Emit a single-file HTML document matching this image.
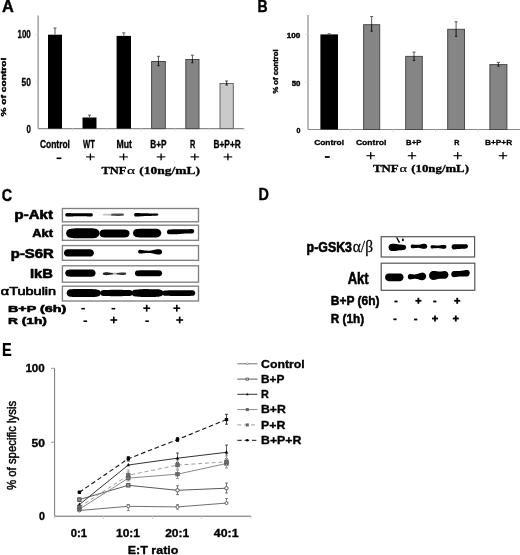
<!DOCTYPE html>
<html><head><meta charset="utf-8"><style>
html,body{margin:0;padding:0;background:#fff;}
svg{display:block;filter:grayscale(1);}
text{font-variant-ligatures:none;}
</style></head><body>
<svg width="520" height="555" viewBox="0 0 520 555">
<defs><filter id="bl" x="-20%" y="-50%" width="140%" height="200%"><feGaussianBlur stdDeviation="0.55"/></filter></defs>
<rect width="520" height="555" fill="#fff"/>
<text transform="matrix(1.0007 0 0 1 2.00 12.40)" font-family="Liberation Sans" font-weight="bold" font-size="16.38" fill="#000"  stroke="#000" stroke-width="0.4" stroke-linejoin="round">A</text>
<line x1="38.1" y1="15.5" x2="38.1" y2="128.6" stroke="#8a8a8a" stroke-width="1.2" />
<line x1="38.1" y1="128.6" x2="244" y2="128.6" stroke="#8a8a8a" stroke-width="1.2" />
<line x1="35.6" y1="34.7" x2="38.1" y2="34.7" stroke="#d8d8d8" stroke-width="1" />
<line x1="35.6" y1="81.6" x2="38.1" y2="81.6" stroke="#d8d8d8" stroke-width="1" />
<text transform="matrix(0.7850 0 0 1 17.50 38.30)" font-family="Liberation Sans" font-weight="bold" font-size="10.14" fill="#000"  stroke="#000" stroke-width="0.32" stroke-linejoin="round">100</text>
<text transform="matrix(0.8259 0 0 1 21.50 85.80)" font-family="Liberation Sans" font-weight="bold" font-size="10.14" fill="#000"  stroke="#000" stroke-width="0.32" stroke-linejoin="round">50</text>
<text transform="matrix(0.7815 0 0 1 26.40 132.60)" font-family="Liberation Sans" font-weight="bold" font-size="10.14" fill="#000"  stroke="#000" stroke-width="0.32" stroke-linejoin="round">0</text>
<text transform="translate(6.30 116.50) rotate(-90) scale(1.4051 1) translate(-0.00 0)" font-family="Liberation Sans" font-weight="bold" font-size="7.25" fill="#000" stroke="#000" stroke-width="0.4">% of control</text>
<rect x="48" y="34.7" width="14" height="93.89999999999999" fill="#000" stroke="none" stroke-width="1" />
<line x1="55.0" y1="28" x2="55.0" y2="34.7" stroke="#555" stroke-width="1" />
<line x1="53.5" y1="28" x2="56.5" y2="28" stroke="#555" stroke-width="1" />
<rect x="82.5" y="117.5" width="14.0" height="11.099999999999994" fill="#000" stroke="none" stroke-width="1" />
<line x1="89.5" y1="115.1" x2="89.5" y2="117.5" stroke="#555" stroke-width="1" />
<line x1="88.0" y1="115.1" x2="91.0" y2="115.1" stroke="#555" stroke-width="1" />
<rect x="116.6" y="35.9" width="14.400000000000006" height="92.69999999999999" fill="#000" stroke="none" stroke-width="1" />
<line x1="123.8" y1="32.9" x2="123.8" y2="35.9" stroke="#555" stroke-width="1" />
<line x1="122.3" y1="32.9" x2="125.3" y2="32.9" stroke="#555" stroke-width="1" />
<rect x="151.6" y="61.5" width="13.700000000000017" height="67.1" fill="#858585" stroke="#4a4a4a" stroke-width="1" />
<line x1="158.45" y1="56.3" x2="158.45" y2="61" stroke="#555" stroke-width="1" />
<line x1="158.45" y1="61" x2="158.45" y2="65.6" stroke="#111" stroke-width="1" />
<line x1="156.95" y1="56.3" x2="159.95" y2="56.3" stroke="#555" stroke-width="1" />
<line x1="157.25" y1="65.6" x2="159.64999999999998" y2="65.6" stroke="#222" stroke-width="1.1" />
<rect x="185.8" y="59.5" width="13.199999999999989" height="69.1" fill="#858585" stroke="#4a4a4a" stroke-width="1" />
<line x1="192.4" y1="55.2" x2="192.4" y2="59" stroke="#555" stroke-width="1" />
<line x1="192.4" y1="59" x2="192.4" y2="62.7" stroke="#111" stroke-width="1" />
<line x1="190.9" y1="55.2" x2="193.9" y2="55.2" stroke="#555" stroke-width="1" />
<line x1="191.20000000000002" y1="62.7" x2="193.6" y2="62.7" stroke="#222" stroke-width="1.1" />
<rect x="220.0" y="83.5" width="13.300000000000011" height="45.099999999999994" fill="#cacaca" stroke="#666" stroke-width="1" />
<line x1="226.65" y1="81" x2="226.65" y2="83" stroke="#444" stroke-width="1" />
<line x1="226.65" y1="83" x2="226.65" y2="85" stroke="#111" stroke-width="1" />
<line x1="225.15" y1="81" x2="228.15" y2="81" stroke="#444" stroke-width="1" />
<line x1="225.45000000000002" y1="85" x2="227.85" y2="85" stroke="#222" stroke-width="1.1" />
<line x1="72.5" y1="128.6" x2="72.5" y2="131.1" stroke="#e0e0e0" stroke-width="1" />
<line x1="106.5" y1="128.6" x2="106.5" y2="131.1" stroke="#e0e0e0" stroke-width="1" />
<line x1="141" y1="128.6" x2="141" y2="131.1" stroke="#e0e0e0" stroke-width="1" />
<line x1="175" y1="128.6" x2="175" y2="131.1" stroke="#e0e0e0" stroke-width="1" />
<line x1="209.5" y1="128.6" x2="209.5" y2="131.1" stroke="#e0e0e0" stroke-width="1" />
<line x1="244" y1="128.6" x2="244" y2="131.1" stroke="#e0e0e0" stroke-width="1" />
<text transform="matrix(0.8087 0 0 1 40.00 148.00)" font-family="Liberation Sans" font-weight="bold" font-size="10.43" fill="#000"  stroke="#000" stroke-width="0.32" stroke-linejoin="round">Control</text>
<text transform="matrix(0.7334 0 0 1 83.10 147.80)" font-family="Liberation Sans" font-weight="bold" font-size="10.43" fill="#000"  stroke="#000" stroke-width="0.32" stroke-linejoin="round">WT</text>
<text transform="matrix(0.8315 0 0 1 116.50 147.80)" font-family="Liberation Sans" font-weight="bold" font-size="10.43" fill="#000"  stroke="#000" stroke-width="0.32" stroke-linejoin="round">Mut</text>
<text transform="matrix(0.7861 0 0 1 150.30 148.00)" font-family="Liberation Sans" font-weight="bold" font-size="10.43" fill="#000"  stroke="#000" stroke-width="0.32" stroke-linejoin="round">B+P</text>
<text transform="matrix(0.7054 0 0 1 190.00 148.00)" font-family="Liberation Sans" font-weight="bold" font-size="10.43" fill="#000"  stroke="#000" stroke-width="0.32" stroke-linejoin="round">R</text>
<text transform="matrix(0.7976 0 0 1 213.50 148.00)" font-family="Liberation Sans" font-weight="bold" font-size="10.43" fill="#000"  stroke="#000" stroke-width="0.32" stroke-linejoin="round">B+P+R</text>
<rect x="56.6" y="157.5" width="4.8" height="1.6" fill="#000" stroke="none" stroke-width="1" />
<rect x="86.10000000000001" y="156.35" width="8.6" height="1.1" fill="#000" stroke="none" stroke-width="1" />
<rect x="89.75" y="153.5" width="1.3" height="6.8" fill="#000" stroke="none" stroke-width="1" />
<rect x="119.3" y="156.35" width="8.6" height="1.1" fill="#000" stroke="none" stroke-width="1" />
<rect x="122.94999999999999" y="153.5" width="1.3" height="6.8" fill="#000" stroke="none" stroke-width="1" />
<rect x="156.79999999999998" y="156.35" width="8.6" height="1.1" fill="#000" stroke="none" stroke-width="1" />
<rect x="160.45" y="153.5" width="1.3" height="6.8" fill="#000" stroke="none" stroke-width="1" />
<rect x="190.5" y="156.35" width="8.6" height="1.1" fill="#000" stroke="none" stroke-width="1" />
<rect x="194.15" y="153.5" width="1.3" height="6.8" fill="#000" stroke="none" stroke-width="1" />
<rect x="223.6" y="156.35" width="8.6" height="1.1" fill="#000" stroke="none" stroke-width="1" />
<rect x="227.25" y="153.5" width="1.3" height="6.8" fill="#000" stroke="none" stroke-width="1" />
<text transform="matrix(1.2040 0 0 1 101.40 173.60)" font-family="Liberation Serif" font-weight="bold" font-size="10.38" fill="#000"  stroke="#000" stroke-width="0.32" stroke-linejoin="round">TNF</text>
<text transform="matrix(1.4861 0 0 1 126.90 173.60)" font-family="Liberation Serif" font-weight="normal" font-size="10.38" fill="#000"  stroke="#000" stroke-width="0.2" stroke-linejoin="round">α</text>
<text transform="matrix(1.3036 0 0 1 139.20 173.60)" font-family="Liberation Serif" font-weight="bold" font-size="10.38" fill="#000"  stroke="#000" stroke-width="0.32" stroke-linejoin="round">(10ng/mL)</text>
<text transform="matrix(0.8490 0 0 1 257.50 12.20)" font-family="Liberation Sans" font-weight="bold" font-size="16.52" fill="#000"  stroke="#000" stroke-width="0.4" stroke-linejoin="round">B</text>
<line x1="308" y1="15" x2="308" y2="129.5" stroke="#8a8a8a" stroke-width="1.2" />
<line x1="308" y1="129.5" x2="520" y2="129.5" stroke="#8a8a8a" stroke-width="1.2" />
<line x1="305.5" y1="34.4" x2="308" y2="34.4" stroke="#d8d8d8" stroke-width="1" />
<line x1="305.5" y1="82" x2="308" y2="82" stroke="#d8d8d8" stroke-width="1" />
<text transform="matrix(1.1156 0 0 1 286.70 37.50)" font-family="Liberation Sans" font-weight="bold" font-size="7.25" fill="#000"  stroke="#000" stroke-width="0.4" stroke-linejoin="round">100</text>
<text transform="matrix(1.0816 0 0 1 291.70 86.00)" font-family="Liberation Sans" font-weight="bold" font-size="7.25" fill="#000"  stroke="#000" stroke-width="0.4" stroke-linejoin="round">50</text>
<text transform="matrix(0.9697 0 0 1 296.50 133.00)" font-family="Liberation Sans" font-weight="bold" font-size="7.25" fill="#000"  stroke="#000" stroke-width="0.4" stroke-linejoin="round">0</text>
<text transform="translate(278.40 93.60) rotate(-90) scale(0.9602 1) translate(-0.00 0)" font-family="Liberation Sans" font-weight="bold" font-size="7.97" fill="#000" stroke="#000" stroke-width="0.4">% of control</text>
<rect x="320.4" y="34.4" width="17.600000000000023" height="95.1" fill="#000" stroke="none" stroke-width="1" />
<line x1="329.2" y1="33.8" x2="329.2" y2="34.4" stroke="#555" stroke-width="1" />
<line x1="329.2" y1="34.4" x2="329.2" y2="34.6" stroke="#555" stroke-width="1" />
<line x1="327.7" y1="33.8" x2="330.7" y2="33.8" stroke="#555" stroke-width="1" />
<rect x="363.6" y="24.7" width="16.099999999999966" height="104.8" fill="#858585" stroke="#4a4a4a" stroke-width="1" />
<line x1="371.65" y1="16.6" x2="371.65" y2="24.2" stroke="#555" stroke-width="1" />
<line x1="371.65" y1="24.2" x2="371.65" y2="31.2" stroke="#111" stroke-width="1" />
<line x1="370.15" y1="16.6" x2="373.15" y2="16.6" stroke="#555" stroke-width="1" />
<line x1="370.45" y1="31.2" x2="372.84999999999997" y2="31.2" stroke="#222" stroke-width="1.1" />
<rect x="405.7" y="56.4" width="16.600000000000023" height="73.1" fill="#858585" stroke="#4a4a4a" stroke-width="1" />
<line x1="414.0" y1="52.1" x2="414.0" y2="55.9" stroke="#555" stroke-width="1" />
<line x1="414.0" y1="55.9" x2="414.0" y2="60.5" stroke="#111" stroke-width="1" />
<line x1="412.5" y1="52.1" x2="415.5" y2="52.1" stroke="#555" stroke-width="1" />
<line x1="412.8" y1="60.5" x2="415.2" y2="60.5" stroke="#222" stroke-width="1.1" />
<rect x="447.7" y="29.3" width="16.80000000000001" height="100.2" fill="#858585" stroke="#4a4a4a" stroke-width="1" />
<line x1="456.1" y1="21.8" x2="456.1" y2="28.8" stroke="#555" stroke-width="1" />
<line x1="456.1" y1="28.8" x2="456.1" y2="36.3" stroke="#111" stroke-width="1" />
<line x1="454.6" y1="21.8" x2="457.6" y2="21.8" stroke="#555" stroke-width="1" />
<line x1="454.90000000000003" y1="36.3" x2="457.3" y2="36.3" stroke="#222" stroke-width="1.1" />
<rect x="489.9" y="64.6" width="17.0" height="64.9" fill="#858585" stroke="#4a4a4a" stroke-width="1" />
<line x1="498.4" y1="62.4" x2="498.4" y2="64.1" stroke="#555" stroke-width="1" />
<line x1="498.4" y1="64.1" x2="498.4" y2="66.2" stroke="#111" stroke-width="1" />
<line x1="496.9" y1="62.4" x2="499.9" y2="62.4" stroke="#555" stroke-width="1" />
<line x1="497.2" y1="66.2" x2="499.59999999999997" y2="66.2" stroke="#222" stroke-width="1.1" />
<line x1="350.5" y1="129.5" x2="350.5" y2="132.0" stroke="#e0e0e0" stroke-width="1" />
<line x1="393" y1="129.5" x2="393" y2="132.0" stroke="#e0e0e0" stroke-width="1" />
<line x1="435.5" y1="129.5" x2="435.5" y2="132.0" stroke="#e0e0e0" stroke-width="1" />
<line x1="478" y1="129.5" x2="478" y2="132.0" stroke="#e0e0e0" stroke-width="1" />
<text transform="matrix(1.0329 0 0 1 314.20 144.50)" font-family="Liberation Sans" font-weight="bold" font-size="8.12" fill="#000"  stroke="#000" stroke-width="0.32" stroke-linejoin="round">Control</text>
<text transform="matrix(1.0571 0 0 1 355.90 144.50)" font-family="Liberation Sans" font-weight="bold" font-size="8.12" fill="#000"  stroke="#000" stroke-width="0.32" stroke-linejoin="round">Control</text>
<text transform="matrix(0.9483 0 0 1 406.10 144.50)" font-family="Liberation Sans" font-weight="bold" font-size="8.12" fill="#000"  stroke="#000" stroke-width="0.32" stroke-linejoin="round">B+P</text>
<text transform="matrix(0.8899 0 0 1 454.20 144.50)" font-family="Liberation Sans" font-weight="bold" font-size="8.12" fill="#000"  stroke="#000" stroke-width="0.32" stroke-linejoin="round">R</text>
<text transform="matrix(1.0218 0 0 1 485.00 144.50)" font-family="Liberation Sans" font-weight="bold" font-size="8.12" fill="#000"  stroke="#000" stroke-width="0.32" stroke-linejoin="round">B+P+R</text>
<rect x="324.90000000000003" y="156.1" width="4.8" height="1.8" fill="#000" stroke="none" stroke-width="1" />
<rect x="366.5" y="155.14999999999998" width="8.4" height="1.1" fill="#000" stroke="none" stroke-width="1" />
<rect x="370.05" y="152.1" width="1.3" height="7.2" fill="#000" stroke="none" stroke-width="1" />
<rect x="407.8" y="155.14999999999998" width="8.4" height="1.1" fill="#000" stroke="none" stroke-width="1" />
<rect x="411.35" y="152.1" width="1.3" height="7.2" fill="#000" stroke="none" stroke-width="1" />
<rect x="453.5" y="155.14999999999998" width="8.4" height="1.1" fill="#000" stroke="none" stroke-width="1" />
<rect x="457.05" y="152.1" width="1.3" height="7.2" fill="#000" stroke="none" stroke-width="1" />
<rect x="498.8" y="155.14999999999998" width="8.4" height="1.1" fill="#000" stroke="none" stroke-width="1" />
<rect x="502.35" y="152.1" width="1.3" height="7.2" fill="#000" stroke="none" stroke-width="1" />
<text transform="matrix(1.2660 0 0 1 372.90 172.40)" font-family="Liberation Serif" font-weight="bold" font-size="10.23" fill="#000"  stroke="#000" stroke-width="0.32" stroke-linejoin="round">TNF</text>
<text transform="matrix(1.4152 0 0 1 399.40 172.40)" font-family="Liberation Serif" font-weight="normal" font-size="10.23" fill="#000"  stroke="#000" stroke-width="0.2" stroke-linejoin="round">α</text>
<text transform="matrix(1.2535 0 0 1 411.30 172.40)" font-family="Liberation Serif" font-weight="bold" font-size="10.23" fill="#000"  stroke="#000" stroke-width="0.32" stroke-linejoin="round">(10ng/mL)</text>
<text transform="matrix(0.8295 0 0 1 1.70 200.90)" font-family="Liberation Sans" font-weight="bold" font-size="17.25" fill="#000"  stroke="#000" stroke-width="0.45" stroke-linejoin="round">C</text>
<rect x="62.4" y="208.5" width="136.1" height="13.300000000000011" fill="#fff" stroke="#808080" stroke-width="1.35" />
<rect x="62.4" y="225.2" width="136.1" height="15.100000000000023" fill="#fff" stroke="#808080" stroke-width="1.35" />
<rect x="62.4" y="245.6" width="136.1" height="14.700000000000017" fill="#fff" stroke="#808080" stroke-width="1.35" />
<rect x="62.4" y="265.8" width="136.1" height="16.399999999999977" fill="#fff" stroke="#808080" stroke-width="1.35" />
<rect x="62.4" y="286.2" width="136.1" height="14.800000000000011" fill="#fff" stroke="#808080" stroke-width="1.35" />
<text transform="matrix(1.2346 0 0 1 14.60 219.20)" font-family="Liberation Sans" font-weight="bold" font-size="12.17" fill="#000"  stroke="#000" stroke-width="0.6" stroke-linejoin="round">p-Akt</text>
<text transform="matrix(1.1374 0 0 1 32.30 236.60)" font-family="Liberation Sans" font-weight="bold" font-size="11.30" fill="#000"  stroke="#000" stroke-width="0.6" stroke-linejoin="round">Akt</text>
<text transform="matrix(1.2222 0 0 1 10.80 258.20)" font-family="Liberation Sans" font-weight="bold" font-size="12.17" fill="#000"  stroke="#000" stroke-width="0.6" stroke-linejoin="round">p-S6R</text>
<text transform="matrix(1.1340 0 0 1 30.00 277.70)" font-family="Liberation Sans" font-weight="bold" font-size="13.04" fill="#000"  stroke="#000" stroke-width="0.6" stroke-linejoin="round">IkB</text>
<text transform="matrix(1.3342 0 0 1 0.80 295.00)" font-family="Liberation Sans" font-weight="normal" font-size="10.87" fill="#000"  stroke="#000" stroke-width="0.6" stroke-linejoin="round">αTubulin</text>
<text transform="matrix(1.5708 0 0 1 8.00 311.90)" font-family="Liberation Sans" font-weight="bold" font-size="9.13" fill="#000"  stroke="#000" stroke-width="0.55" stroke-linejoin="round">B+P (6h)</text>
<text transform="matrix(1.4603 0 0 1 8.00 324.00)" font-family="Liberation Sans" font-weight="bold" font-size="9.42" fill="#000"  stroke="#000" stroke-width="0.55" stroke-linejoin="round">R (1h)</text>
<rect x="81.3" y="307.9" width="3.6" height="1.6" fill="#000" stroke="none" stroke-width="1" />
<rect x="111.60000000000001" y="307.9" width="3.6" height="1.6" fill="#000" stroke="none" stroke-width="1" />
<rect x="143.29999999999998" y="307.4" width="6.8" height="1.6" fill="#000" stroke="none" stroke-width="1" />
<rect x="145.89999999999998" y="304.8" width="1.6" height="6.8" fill="#000" stroke="none" stroke-width="1" />
<rect x="173.4" y="307.4" width="6.8" height="1.6" fill="#000" stroke="none" stroke-width="1" />
<rect x="176.0" y="304.8" width="1.6" height="6.8" fill="#000" stroke="none" stroke-width="1" />
<rect x="83.5" y="320.4" width="3.6" height="1.6" fill="#000" stroke="none" stroke-width="1" />
<rect x="145.29999999999998" y="320.4" width="3.6" height="1.6" fill="#000" stroke="none" stroke-width="1" />
<rect x="110.39999999999999" y="319.2" width="6.8" height="1.6" fill="#000" stroke="none" stroke-width="1" />
<rect x="113.0" y="316.6" width="1.6" height="6.8" fill="#000" stroke="none" stroke-width="1" />
<rect x="176.29999999999998" y="319.2" width="6.8" height="1.6" fill="#000" stroke="none" stroke-width="1" />
<rect x="178.89999999999998" y="316.6" width="1.6" height="6.8" fill="#000" stroke="none" stroke-width="1" />
<text transform="matrix(0.8743 0 0 1 258.50 199.50)" font-family="Liberation Sans" font-weight="bold" font-size="16.52" fill="#000"  stroke="#000" stroke-width="0.4" stroke-linejoin="round">D</text>
<rect x="381.2" y="236.7" width="93.40000000000003" height="20.30000000000001" fill="#fff" stroke="#555" stroke-width="1.2" />
<rect x="381.2" y="263.2" width="93.60000000000002" height="27.100000000000023" fill="#fff" stroke="#555" stroke-width="1.2" />
<text transform="matrix(0.8634 0 0 1 306.60 252.30)" font-family="Liberation Sans" font-weight="bold" font-size="14.35" fill="#000"  stroke="#000" stroke-width="0.6" stroke-linejoin="round">p-GSK3</text>
<text transform="matrix(0.7500 0 0 1 347.70 284.30)" font-family="Liberation Sans" font-weight="bold" font-size="17.39" fill="#000"  stroke="#000" stroke-width="0.6" stroke-linejoin="round">Akt</text>
<text transform="matrix(0.9004 0 0 1 330.80 305.40)" font-family="Liberation Sans" font-weight="bold" font-size="13.33" fill="#000"  stroke="#000" stroke-width="0.55" stroke-linejoin="round">B+P (6h)</text>
<text transform="matrix(0.8836 0 0 1 330.80 323.10)" font-family="Liberation Sans" font-weight="bold" font-size="13.33" fill="#000"  stroke="#000" stroke-width="0.55" stroke-linejoin="round">R (1h)</text>
<rect x="394.4" y="300.6" width="3.2" height="1.8" fill="#000" stroke="none" stroke-width="1" />
<rect x="415.4" y="299.90000000000003" width="6" height="1.8" fill="#000" stroke="none" stroke-width="1" />
<rect x="417.5" y="297.8" width="1.8" height="6" fill="#000" stroke="none" stroke-width="1" />
<rect x="433.2" y="300.6" width="3.2" height="1.8" fill="#000" stroke="none" stroke-width="1" />
<rect x="454.2" y="299.90000000000003" width="6" height="1.8" fill="#000" stroke="none" stroke-width="1" />
<rect x="456.3" y="297.8" width="1.8" height="6" fill="#000" stroke="none" stroke-width="1" />
<rect x="393.4" y="318.40000000000003" width="3.2" height="1.8" fill="#000" stroke="none" stroke-width="1" />
<rect x="414.09999999999997" y="318.6" width="3.2" height="1.8" fill="#000" stroke="none" stroke-width="1" />
<rect x="432.0" y="317.6" width="6" height="1.8" fill="#000" stroke="none" stroke-width="1" />
<rect x="434.1" y="315.5" width="1.8" height="6" fill="#000" stroke="none" stroke-width="1" />
<rect x="452.8" y="317.6" width="6" height="1.8" fill="#000" stroke="none" stroke-width="1" />
<rect x="454.90000000000003" y="315.5" width="1.8" height="6" fill="#000" stroke="none" stroke-width="1" />
<text transform="matrix(0.8052 0 0 1 2.00 355.70)" font-family="Liberation Sans" font-weight="bold" font-size="18.12" fill="#000"  stroke="#000" stroke-width="0.2" stroke-linejoin="round">E</text>
<line x1="54.6" y1="368.3" x2="54.6" y2="516.2" stroke="#777" stroke-width="1" />
<line x1="54.6" y1="516.2" x2="251.2" y2="516.2" stroke="#666" stroke-width="1" />
<line x1="51.1" y1="368.3" x2="54.6" y2="368.3" stroke="#999" stroke-width="1" />
<line x1="51.1" y1="442.2" x2="54.6" y2="442.2" stroke="#999" stroke-width="1" />
<line x1="54.6" y1="516.2" x2="54.6" y2="518.7" stroke="#d0d0d0" stroke-width="1" />
<line x1="103.5" y1="516.2" x2="103.5" y2="518.7" stroke="#d0d0d0" stroke-width="1" />
<line x1="152.5" y1="516.2" x2="152.5" y2="518.7" stroke="#d0d0d0" stroke-width="1" />
<line x1="201.5" y1="516.2" x2="201.5" y2="518.7" stroke="#d0d0d0" stroke-width="1" />
<line x1="250.8" y1="516.2" x2="250.8" y2="518.7" stroke="#d0d0d0" stroke-width="1" />
<text transform="matrix(1.1451 0 0 1 25.40 372.30)" font-family="Liberation Sans" font-weight="bold" font-size="10.14" fill="#000"  stroke="#000" stroke-width="0.32" stroke-linejoin="round">100</text>
<text transform="matrix(1.1900 0 0 1 31.50 446.50)" font-family="Liberation Sans" font-weight="bold" font-size="10.14" fill="#000"  stroke="#000" stroke-width="0.32" stroke-linejoin="round">50</text>
<text transform="matrix(1.0479 0 0 1 39.00 519.50)" font-family="Liberation Sans" font-weight="bold" font-size="10.14" fill="#000"  stroke="#000" stroke-width="0.32" stroke-linejoin="round">0</text>
<text transform="translate(16.40 490.00) rotate(-90) scale(0.9134 1) translate(-0.00 0)" font-family="Liberation Sans" font-weight="normal" font-size="12.46" fill="#000" stroke="#000" stroke-width="0.45">% of specific lysis</text>
<text transform="matrix(1.0662 0 0 1 70.80 536.50)" font-family="Liberation Sans" font-weight="bold" font-size="10.58" fill="#000"  stroke="#000" stroke-width="0.32" stroke-linejoin="round">0:1</text>
<text transform="matrix(1.1342 0 0 1 116.00 536.50)" font-family="Liberation Sans" font-weight="bold" font-size="10.58" fill="#000"  stroke="#000" stroke-width="0.32" stroke-linejoin="round">10:1</text>
<text transform="matrix(1.1342 0 0 1 165.20 536.50)" font-family="Liberation Sans" font-weight="bold" font-size="10.58" fill="#000"  stroke="#000" stroke-width="0.32" stroke-linejoin="round">20:1</text>
<text transform="matrix(1.1673 0 0 1 213.80 536.50)" font-family="Liberation Sans" font-weight="bold" font-size="10.58" fill="#000"  stroke="#000" stroke-width="0.32" stroke-linejoin="round">40:1</text>
<text transform="matrix(1.1526 0 0 1 127.70 554.40)" font-family="Liberation Sans" font-weight="bold" font-size="10.87" fill="#000"  stroke="#000" stroke-width="0.32" stroke-linejoin="round">E:T ratio</text>
<path d="M65.10,214.80 L65.80,213.38 L66.49,213.05 L67.19,213.02 L67.89,213.03 L68.59,213.05 L69.28,213.07 L69.98,213.10 L70.68,213.12 L71.38,213.15 L72.07,213.18 L72.77,213.20 L73.47,213.23 L74.17,213.25 L74.86,213.28 L75.56,213.30 L76.26,213.32 L76.96,213.33 L77.66,213.34 L78.35,213.35 L79.05,213.35 L79.75,213.35 L80.44,213.35 L81.14,213.34 L81.84,213.33 L82.54,213.32 L83.23,213.31 L83.93,213.30 L84.63,213.28 L85.33,213.27 L86.03,213.25 L86.72,213.23 L87.42,213.22 L88.12,213.20 L88.81,213.19 L89.51,213.18 L90.21,213.17 L90.91,213.16 L91.60,213.17 L92.30,213.45 L93.00,214.80 L93.00,214.80 L92.30,216.15 L91.60,216.43 L90.91,216.44 L90.21,216.43 L89.51,216.42 L88.81,216.41 L88.12,216.40 L87.42,216.38 L86.72,216.37 L86.03,216.35 L85.33,216.33 L84.63,216.32 L83.93,216.30 L83.23,216.29 L82.54,216.28 L81.84,216.27 L81.14,216.26 L80.44,216.25 L79.75,216.25 L79.05,216.25 L78.35,216.25 L77.66,216.26 L76.96,216.27 L76.26,216.28 L75.56,216.30 L74.86,216.32 L74.17,216.35 L73.47,216.37 L72.77,216.40 L72.07,216.43 L71.38,216.45 L70.68,216.48 L69.98,216.50 L69.28,216.53 L68.59,216.55 L67.89,216.57 L67.19,216.58 L66.49,216.55 L65.80,216.22 L65.10,214.80Z" fill="#000" stroke="none" stroke-width="1" filter="url(#bl)"/>
<path d="M102.80,214.70 L103.08,214.07 L103.36,213.90 L103.64,213.85 L103.92,213.85 L104.20,213.84 L104.48,213.84 L104.76,213.84 L105.04,213.84 L105.32,213.83 L105.60,213.83 L105.88,213.82 L106.16,213.82 L106.44,213.81 L106.72,213.81 L107.00,213.80 L107.28,213.80 L107.56,213.79 L107.84,213.79 L108.12,213.78 L108.40,213.77 L108.68,213.77 L108.96,213.76 L109.24,213.76 L109.52,213.75 L109.80,213.75 L110.08,213.74 L110.36,213.74 L110.64,213.73 L110.92,213.73 L111.20,213.72 L111.48,213.72 L111.76,213.71 L112.04,213.71 L112.32,213.71 L112.60,213.71 L112.88,213.70 L113.16,213.71 L113.44,213.80 L113.72,214.01 L114.00,214.70 L114.00,214.70 L113.72,215.39 L113.44,215.60 L113.16,215.69 L112.88,215.70 L112.60,215.69 L112.32,215.69 L112.04,215.69 L111.76,215.69 L111.48,215.68 L111.20,215.68 L110.92,215.67 L110.64,215.67 L110.36,215.66 L110.08,215.66 L109.80,215.65 L109.52,215.65 L109.24,215.64 L108.96,215.64 L108.68,215.63 L108.40,215.62 L108.12,215.62 L107.84,215.61 L107.56,215.61 L107.28,215.60 L107.00,215.60 L106.72,215.59 L106.44,215.59 L106.16,215.58 L105.88,215.58 L105.60,215.57 L105.32,215.57 L105.04,215.56 L104.76,215.56 L104.48,215.56 L104.20,215.56 L103.92,215.55 L103.64,215.55 L103.36,215.50 L103.08,215.33 L102.80,214.70Z" fill="#c4c4c4" stroke="none" stroke-width="1" filter="url(#bl)"/>
<path d="M111.00,214.70 L111.33,213.98 L111.65,213.79 L111.97,213.73 L112.30,213.72 L112.62,213.71 L112.95,213.69 L113.28,213.67 L113.60,213.65 L113.92,213.62 L114.25,213.60 L114.58,213.58 L114.90,213.55 L115.22,213.53 L115.55,213.51 L115.88,213.49 L116.20,213.48 L116.53,213.47 L116.85,213.46 L117.17,213.45 L117.50,213.45 L117.83,213.45 L118.15,213.45 L118.47,213.46 L118.80,213.46 L119.12,213.47 L119.45,213.48 L119.78,213.49 L120.10,213.50 L120.42,213.51 L120.75,213.52 L121.08,213.54 L121.40,213.55 L121.72,213.56 L122.05,213.57 L122.38,213.58 L122.70,213.59 L123.03,213.60 L123.35,213.69 L123.67,213.92 L124.00,214.70 L124.00,214.70 L123.67,215.48 L123.35,215.71 L123.03,215.80 L122.70,215.81 L122.38,215.82 L122.05,215.83 L121.72,215.84 L121.40,215.85 L121.08,215.86 L120.75,215.88 L120.42,215.89 L120.10,215.90 L119.78,215.91 L119.45,215.92 L119.12,215.93 L118.80,215.94 L118.47,215.94 L118.15,215.95 L117.83,215.95 L117.50,215.95 L117.17,215.95 L116.85,215.94 L116.53,215.93 L116.20,215.92 L115.88,215.91 L115.55,215.89 L115.22,215.87 L114.90,215.85 L114.58,215.82 L114.25,215.80 L113.92,215.78 L113.60,215.75 L113.28,215.73 L112.95,215.71 L112.62,215.69 L112.30,215.68 L111.97,215.67 L111.65,215.61 L111.33,215.42 L111.00,214.70Z" fill="#505050" stroke="none" stroke-width="1" filter="url(#bl)"/>
<path d="M134.00,214.80 L134.61,213.42 L135.22,213.06 L135.84,212.96 L136.45,212.98 L137.06,213.00 L137.68,213.02 L138.29,213.05 L138.90,213.08 L139.51,213.12 L140.12,213.15 L140.74,213.18 L141.35,213.22 L141.96,213.25 L142.57,213.28 L143.19,213.30 L143.80,213.32 L144.41,213.34 L145.03,213.35 L145.64,213.35 L146.25,213.35 L146.86,213.35 L147.47,213.35 L148.09,213.35 L148.70,213.36 L149.31,213.38 L149.93,213.39 L150.54,213.41 L151.15,213.43 L151.76,213.45 L152.38,213.47 L152.99,213.50 L153.60,213.52 L154.21,213.54 L154.82,213.56 L155.44,213.57 L156.05,213.59 L156.66,213.60 L157.28,213.60 L157.89,213.68 L158.50,214.60 L158.50,214.60 L157.89,215.53 L157.28,215.62 L156.66,215.63 L156.05,215.65 L155.44,215.68 L154.82,215.70 L154.21,215.73 L153.60,215.76 L152.99,215.79 L152.38,215.83 L151.76,215.86 L151.15,215.89 L150.54,215.92 L149.93,215.95 L149.31,215.97 L148.70,216.00 L148.09,216.02 L147.47,216.03 L146.86,216.04 L146.25,216.05 L145.64,216.06 L145.03,216.07 L144.41,216.09 L143.80,216.12 L143.19,216.15 L142.57,216.18 L141.96,216.22 L141.35,216.26 L140.74,216.31 L140.12,216.35 L139.51,216.39 L138.90,216.44 L138.29,216.48 L137.68,216.52 L137.06,216.55 L136.45,216.58 L135.84,216.61 L135.22,216.52 L134.61,216.17 L134.00,214.80Z" fill="#000" stroke="none" stroke-width="1" filter="url(#bl)"/>
<path d="M66.00,233.30 L66.84,230.80 L67.68,229.94 L68.52,229.40 L69.36,229.06 L70.20,228.88 L71.04,228.78 L71.88,228.67 L72.72,228.56 L73.56,228.47 L74.40,228.41 L75.24,228.36 L76.08,228.35 L76.92,228.35 L77.76,228.35 L78.60,228.35 L79.44,228.35 L80.28,228.35 L81.12,228.35 L81.96,228.35 L82.80,228.35 L83.64,228.35 L84.48,228.35 L85.32,228.35 L86.16,228.35 L87.00,228.35 L87.84,228.35 L88.68,228.35 L89.52,228.35 L90.36,228.35 L91.20,228.35 L92.04,228.35 L92.88,228.35 L93.72,228.39 L94.56,228.51 L95.40,228.69 L96.24,228.94 L97.08,229.37 L97.92,229.99 L98.76,230.87 L99.60,233.30 L99.60,233.30 L98.76,235.73 L97.92,236.61 L97.08,237.23 L96.24,237.66 L95.40,237.91 L94.56,238.09 L93.72,238.21 L92.88,238.25 L92.04,238.25 L91.20,238.25 L90.36,238.25 L89.52,238.25 L88.68,238.25 L87.84,238.25 L87.00,238.25 L86.16,238.25 L85.32,238.25 L84.48,238.25 L83.64,238.25 L82.80,238.25 L81.96,238.25 L81.12,238.25 L80.28,238.25 L79.44,238.25 L78.60,238.25 L77.76,238.25 L76.92,238.25 L76.08,238.25 L75.24,238.24 L74.40,238.19 L73.56,238.13 L72.72,238.04 L71.88,237.93 L71.04,237.83 L70.20,237.72 L69.36,237.54 L68.52,237.20 L67.68,236.66 L66.84,235.80 L66.00,233.30Z" fill="#000" stroke="none" stroke-width="1" filter="url(#bl)"/>
<path d="M99.40,233.50 L100.16,231.29 L100.91,230.53 L101.67,230.06 L102.42,229.77 L103.18,229.66 L103.93,229.60 L104.69,229.56 L105.44,229.55 L106.20,229.55 L106.95,229.55 L107.70,229.55 L108.46,229.55 L109.22,229.55 L109.97,229.55 L110.72,229.55 L111.48,229.55 L112.23,229.55 L112.99,229.55 L113.75,229.55 L114.50,229.55 L115.25,229.55 L116.01,229.55 L116.77,229.55 L117.52,229.55 L118.28,229.55 L119.03,229.55 L119.78,229.55 L120.54,229.55 L121.30,229.55 L122.05,229.55 L122.80,229.55 L123.56,229.55 L124.31,229.57 L125.07,229.62 L125.82,229.69 L126.58,229.81 L127.33,230.10 L128.09,230.57 L128.84,231.32 L129.60,233.50 L129.60,233.50 L128.84,235.68 L128.09,236.43 L127.33,236.90 L126.58,237.19 L125.82,237.31 L125.07,237.38 L124.31,237.43 L123.56,237.45 L122.80,237.45 L122.05,237.45 L121.30,237.45 L120.54,237.45 L119.78,237.45 L119.03,237.45 L118.28,237.45 L117.52,237.45 L116.77,237.45 L116.01,237.45 L115.25,237.45 L114.50,237.45 L113.75,237.45 L112.99,237.45 L112.23,237.45 L111.48,237.45 L110.72,237.45 L109.97,237.45 L109.22,237.45 L108.46,237.45 L107.70,237.45 L106.95,237.45 L106.20,237.45 L105.44,237.45 L104.69,237.44 L103.93,237.40 L103.18,237.34 L102.42,237.23 L101.67,236.94 L100.91,236.47 L100.16,235.71 L99.40,233.50Z" fill="#000" stroke="none" stroke-width="1" filter="url(#bl)"/>
<path d="M132.90,233.10 L133.61,230.86 L134.33,230.08 L135.04,229.59 L135.75,229.26 L136.46,229.08 L137.18,229.00 L137.89,228.94 L138.60,228.88 L139.31,228.82 L140.03,228.78 L140.74,228.76 L141.45,228.75 L142.16,228.75 L142.88,228.75 L143.59,228.75 L144.30,228.75 L145.01,228.75 L145.72,228.75 L146.44,228.75 L147.15,228.75 L147.86,228.75 L148.58,228.75 L149.29,228.75 L150.00,228.75 L150.71,228.75 L151.43,228.75 L152.14,228.75 L152.85,228.75 L153.56,228.75 L154.28,228.75 L154.99,228.75 L155.70,228.75 L156.41,228.78 L157.12,228.86 L157.84,228.98 L158.55,229.21 L159.26,229.60 L159.97,230.14 L160.69,230.93 L161.40,233.10 L161.40,233.10 L160.69,235.27 L159.97,236.06 L159.26,236.60 L158.55,236.99 L157.84,237.22 L157.12,237.34 L156.41,237.42 L155.70,237.45 L154.99,237.45 L154.28,237.45 L153.56,237.45 L152.85,237.45 L152.14,237.45 L151.43,237.45 L150.71,237.45 L150.00,237.45 L149.29,237.45 L148.58,237.45 L147.86,237.45 L147.15,237.45 L146.44,237.45 L145.72,237.45 L145.01,237.45 L144.30,237.45 L143.59,237.45 L142.88,237.45 L142.16,237.45 L141.45,237.45 L140.74,237.44 L140.03,237.42 L139.31,237.38 L138.60,237.32 L137.89,237.26 L137.18,237.20 L136.46,237.12 L135.75,236.94 L135.04,236.61 L134.33,236.12 L133.61,235.34 L132.90,233.10Z" fill="#000" stroke="none" stroke-width="1" filter="url(#bl)"/>
<path d="M166.80,232.00 L167.49,230.32 L168.18,229.81 L168.86,229.58 L169.55,229.52 L170.24,229.48 L170.93,229.43 L171.61,229.38 L172.30,229.34 L172.99,229.30 L173.68,229.26 L174.36,229.23 L175.05,229.21 L175.74,229.19 L176.43,229.19 L177.11,229.19 L177.80,229.20 L178.49,229.21 L179.18,229.23 L179.86,229.25 L180.55,229.28 L181.24,229.30 L181.93,229.32 L182.61,229.34 L183.30,229.35 L183.99,229.36 L184.68,229.36 L185.36,229.36 L186.05,229.34 L186.74,229.32 L187.43,229.29 L188.11,229.25 L188.80,229.21 L189.49,229.17 L190.18,229.12 L190.86,229.07 L191.55,229.03 L192.24,229.00 L192.93,229.15 L193.61,229.58 L194.30,231.20 L194.30,231.20 L193.61,232.86 L192.93,233.33 L192.24,233.52 L191.55,233.53 L190.86,233.53 L190.18,233.52 L189.49,233.51 L188.80,233.51 L188.11,233.51 L187.43,233.51 L186.74,233.52 L186.05,233.54 L185.36,233.56 L184.68,233.60 L183.99,233.64 L183.30,233.69 L182.61,233.74 L181.93,233.80 L181.24,233.86 L180.55,233.92 L179.86,233.99 L179.18,234.05 L178.49,234.11 L177.80,234.16 L177.11,234.21 L176.43,234.25 L175.74,234.29 L175.05,234.31 L174.36,234.33 L173.68,234.34 L172.99,234.34 L172.30,234.34 L171.61,234.34 L170.93,234.33 L170.24,234.32 L169.55,234.32 L168.86,234.30 L168.18,234.11 L167.49,233.64 L166.80,232.00Z" fill="#000" stroke="none" stroke-width="1" filter="url(#bl)"/>
<path d="M63.80,252.90 L64.55,250.73 L65.31,250.01 L66.06,249.60 L66.82,249.40 L67.58,249.34 L68.33,249.33 L69.08,249.31 L69.84,249.29 L70.59,249.27 L71.35,249.26 L72.11,249.25 L72.86,249.25 L73.61,249.25 L74.37,249.25 L75.12,249.25 L75.88,249.25 L76.63,249.25 L77.39,249.25 L78.14,249.25 L78.90,249.25 L79.66,249.25 L80.41,249.25 L81.16,249.25 L81.92,249.25 L82.67,249.25 L83.43,249.25 L84.19,249.25 L84.94,249.25 L85.69,249.25 L86.45,249.25 L87.20,249.25 L87.96,249.25 L88.72,249.26 L89.47,249.29 L90.22,249.34 L90.98,249.42 L91.73,249.64 L92.49,250.06 L93.25,250.77 L94.00,252.90 L94.00,252.90 L93.25,255.03 L92.49,255.74 L91.73,256.16 L90.98,256.38 L90.22,256.46 L89.47,256.51 L88.72,256.54 L87.96,256.55 L87.20,256.55 L86.45,256.55 L85.69,256.55 L84.94,256.55 L84.19,256.55 L83.43,256.55 L82.67,256.55 L81.92,256.55 L81.16,256.55 L80.41,256.55 L79.66,256.55 L78.90,256.55 L78.14,256.55 L77.39,256.55 L76.63,256.55 L75.88,256.55 L75.12,256.55 L74.37,256.55 L73.61,256.55 L72.86,256.55 L72.11,256.55 L71.35,256.54 L70.59,256.53 L69.84,256.51 L69.08,256.49 L68.33,256.48 L67.58,256.46 L66.82,256.40 L66.06,256.20 L65.31,255.79 L64.55,255.07 L63.80,252.90Z" fill="#000" stroke="none" stroke-width="1" filter="url(#bl)"/>
<path d="M138.00,251.70 L138.60,250.30 L139.21,249.93 L139.81,249.83 L140.42,249.87 L141.03,249.93 L141.63,249.99 L142.23,250.06 L142.84,250.14 L143.44,250.22 L144.05,250.30 L144.66,250.38 L145.26,250.45 L145.87,250.51 L146.47,250.57 L147.07,250.62 L147.68,250.65 L148.28,250.68 L148.89,250.69 L149.50,250.68 L150.10,250.64 L150.70,250.57 L151.31,250.48 L151.91,250.37 L152.52,250.24 L153.12,250.10 L153.73,249.96 L154.33,249.81 L154.94,249.67 L155.54,249.54 L156.15,249.43 L156.75,249.34 L157.36,249.27 L157.96,249.23 L158.57,249.22 L159.17,249.24 L159.78,249.28 L160.38,249.42 L160.99,249.73 L161.59,250.27 L162.20,251.90 L162.20,251.90 L161.59,253.52 L160.99,254.05 L160.38,254.35 L159.78,254.48 L159.17,254.51 L158.57,254.52 L157.96,254.50 L157.36,254.45 L156.75,254.37 L156.15,254.27 L155.54,254.15 L154.94,254.01 L154.33,253.86 L153.73,253.71 L153.12,253.55 L152.52,253.40 L151.91,253.26 L151.31,253.14 L150.70,253.04 L150.10,252.96 L149.50,252.91 L148.89,252.89 L148.28,252.89 L147.68,252.91 L147.07,252.93 L146.47,252.97 L145.87,253.02 L145.26,253.07 L144.66,253.13 L144.05,253.20 L143.44,253.27 L142.84,253.34 L142.23,253.41 L141.63,253.47 L141.03,253.52 L140.42,253.57 L139.81,253.60 L139.21,253.49 L138.60,253.11 L138.00,251.70Z" fill="#000" stroke="none" stroke-width="1" filter="url(#bl)"/>
<path d="M65.10,273.10 L65.86,270.97 L66.63,270.27 L67.39,269.88 L68.16,269.69 L68.92,269.64 L69.69,269.60 L70.45,269.56 L71.22,269.53 L71.98,269.49 L72.75,269.47 L73.52,269.46 L74.28,269.45 L75.05,269.45 L75.81,269.45 L76.58,269.45 L77.34,269.45 L78.10,269.45 L78.87,269.45 L79.63,269.45 L80.40,269.45 L81.16,269.45 L81.93,269.45 L82.69,269.45 L83.46,269.45 L84.22,269.45 L84.99,269.45 L85.75,269.45 L86.52,269.45 L87.28,269.45 L88.05,269.45 L88.81,269.45 L89.58,269.45 L90.34,269.46 L91.11,269.49 L91.88,269.54 L92.64,269.61 L93.41,269.83 L94.17,270.25 L94.94,270.96 L95.70,273.10 L95.70,273.10 L94.94,275.24 L94.17,275.95 L93.41,276.37 L92.64,276.59 L91.88,276.66 L91.11,276.71 L90.34,276.74 L89.58,276.75 L88.81,276.75 L88.05,276.75 L87.28,276.75 L86.52,276.75 L85.75,276.75 L84.99,276.75 L84.22,276.75 L83.46,276.75 L82.69,276.75 L81.93,276.75 L81.16,276.75 L80.40,276.75 L79.63,276.75 L78.87,276.75 L78.10,276.75 L77.34,276.75 L76.58,276.75 L75.81,276.75 L75.05,276.75 L74.28,276.75 L73.52,276.74 L72.75,276.73 L71.98,276.71 L71.22,276.68 L70.45,276.64 L69.69,276.60 L68.92,276.56 L68.16,276.51 L67.39,276.32 L66.63,275.93 L65.86,275.23 L65.10,273.10Z" fill="#000" stroke="none" stroke-width="1" filter="url(#bl)"/>
<path d="M108.00,273.70 L108.33,273.03 L108.65,272.87 L108.97,272.85 L109.30,272.85 L109.62,272.85 L109.95,272.85 L110.28,272.85 L110.60,272.85 L110.92,272.85 L111.25,272.85 L111.58,272.85 L111.90,272.85 L112.22,272.85 L112.55,272.85 L112.88,272.85 L113.20,272.85 L113.53,272.85 L113.85,272.85 L114.17,272.85 L114.50,272.85 L114.83,272.85 L115.15,272.85 L115.47,272.85 L115.80,272.85 L116.12,272.85 L116.45,272.85 L116.78,272.85 L117.10,272.85 L117.42,272.85 L117.75,272.85 L118.08,272.85 L118.40,272.85 L118.72,272.85 L119.05,272.85 L119.38,272.85 L119.70,272.85 L120.03,272.85 L120.35,272.87 L120.67,273.03 L121.00,273.70 L121.00,273.70 L120.67,274.37 L120.35,274.53 L120.03,274.55 L119.70,274.55 L119.38,274.55 L119.05,274.55 L118.72,274.55 L118.40,274.55 L118.08,274.55 L117.75,274.55 L117.42,274.55 L117.10,274.55 L116.78,274.55 L116.45,274.55 L116.12,274.55 L115.80,274.55 L115.47,274.55 L115.15,274.55 L114.83,274.55 L114.50,274.55 L114.17,274.55 L113.85,274.55 L113.53,274.55 L113.20,274.55 L112.88,274.55 L112.55,274.55 L112.22,274.55 L111.90,274.55 L111.58,274.55 L111.25,274.55 L110.92,274.55 L110.60,274.55 L110.28,274.55 L109.95,274.55 L109.62,274.55 L109.30,274.55 L108.97,274.55 L108.65,274.53 L108.33,274.37 L108.00,273.70Z" fill="#aaa" stroke="none" stroke-width="1" filter="url(#bl)"/>
<path d="M102.80,273.70 L103.05,273.01 L103.31,272.78 L103.56,272.65 L103.82,272.58 L104.08,272.54 L104.33,272.49 L104.58,272.45 L104.84,272.41 L105.09,272.36 L105.35,272.33 L105.61,272.29 L105.86,272.27 L106.11,272.26 L106.37,272.25 L106.62,272.25 L106.88,272.26 L107.13,272.28 L107.39,272.30 L107.64,272.32 L107.90,272.35 L108.16,272.38 L108.41,272.42 L108.66,272.46 L108.92,272.51 L109.17,272.55 L109.43,272.60 L109.69,272.65 L109.94,272.70 L110.19,272.75 L110.45,272.79 L110.70,272.84 L110.96,272.88 L111.22,272.92 L111.47,272.95 L111.72,272.98 L111.98,273.00 L112.23,273.02 L112.49,273.05 L112.75,273.18 L113.00,273.70 L113.00,273.70 L112.75,274.22 L112.49,274.35 L112.23,274.38 L111.98,274.40 L111.72,274.42 L111.47,274.45 L111.22,274.48 L110.96,274.52 L110.70,274.56 L110.45,274.61 L110.19,274.65 L109.94,274.70 L109.69,274.75 L109.43,274.80 L109.17,274.85 L108.92,274.89 L108.66,274.94 L108.41,274.98 L108.16,275.02 L107.90,275.05 L107.64,275.08 L107.39,275.10 L107.13,275.12 L106.88,275.14 L106.62,275.15 L106.37,275.15 L106.11,275.14 L105.86,275.13 L105.61,275.11 L105.35,275.07 L105.09,275.04 L104.84,274.99 L104.58,274.95 L104.33,274.91 L104.08,274.86 L103.82,274.82 L103.56,274.75 L103.31,274.62 L103.05,274.39 L102.80,273.70Z" fill="#222" stroke="none" stroke-width="1" filter="url(#bl)"/>
<path d="M116.50,273.70 L116.74,273.19 L116.98,273.06 L117.23,273.03 L117.47,273.01 L117.71,272.99 L117.95,272.97 L118.20,272.94 L118.44,272.91 L118.68,272.88 L118.92,272.84 L119.17,272.80 L119.41,272.76 L119.65,272.72 L119.89,272.69 L120.14,272.65 L120.38,272.61 L120.62,272.57 L120.86,272.54 L121.11,272.51 L121.35,272.48 L121.59,272.46 L121.84,272.44 L122.08,272.42 L122.32,272.41 L122.56,272.40 L122.81,272.40 L123.05,272.40 L123.29,272.41 L123.53,272.43 L123.78,272.45 L124.02,272.47 L124.26,272.50 L124.50,272.52 L124.75,272.55 L124.99,272.58 L125.23,272.61 L125.47,272.67 L125.72,272.80 L125.96,273.03 L126.20,273.70 L126.20,273.70 L125.96,274.37 L125.72,274.60 L125.47,274.73 L125.23,274.79 L124.99,274.82 L124.75,274.85 L124.50,274.88 L124.26,274.90 L124.02,274.93 L123.78,274.95 L123.53,274.97 L123.29,274.99 L123.05,275.00 L122.81,275.00 L122.56,275.00 L122.32,274.99 L122.08,274.98 L121.84,274.96 L121.59,274.94 L121.35,274.92 L121.11,274.89 L120.86,274.86 L120.62,274.83 L120.38,274.79 L120.14,274.75 L119.89,274.71 L119.65,274.68 L119.41,274.64 L119.17,274.60 L118.92,274.56 L118.68,274.52 L118.44,274.49 L118.20,274.46 L117.95,274.43 L117.71,274.41 L117.47,274.39 L117.23,274.37 L116.98,274.34 L116.74,274.21 L116.50,273.70Z" fill="#333" stroke="none" stroke-width="1" filter="url(#bl)"/>
<path d="M134.80,273.30 L135.49,271.44 L136.17,270.86 L136.86,270.54 L137.54,270.41 L138.23,270.39 L138.91,270.38 L139.59,270.36 L140.28,270.34 L140.97,270.32 L141.65,270.31 L142.34,270.30 L143.02,270.30 L143.71,270.30 L144.39,270.30 L145.07,270.30 L145.76,270.30 L146.44,270.30 L147.13,270.30 L147.81,270.30 L148.50,270.30 L149.19,270.30 L149.87,270.30 L150.56,270.30 L151.24,270.30 L151.93,270.30 L152.61,270.30 L153.29,270.30 L153.98,270.30 L154.66,270.30 L155.35,270.30 L156.03,270.30 L156.72,270.30 L157.41,270.31 L158.09,270.32 L158.77,270.35 L159.46,270.38 L160.14,270.52 L160.83,270.85 L161.51,271.44 L162.20,273.30 L162.20,273.30 L161.51,275.16 L160.83,275.75 L160.14,276.08 L159.46,276.22 L158.77,276.25 L158.09,276.28 L157.41,276.29 L156.72,276.30 L156.03,276.30 L155.35,276.30 L154.66,276.30 L153.98,276.30 L153.29,276.30 L152.61,276.30 L151.93,276.30 L151.24,276.30 L150.56,276.30 L149.87,276.30 L149.19,276.30 L148.50,276.30 L147.81,276.30 L147.13,276.30 L146.44,276.30 L145.76,276.30 L145.07,276.30 L144.39,276.30 L143.71,276.30 L143.02,276.30 L142.34,276.30 L141.65,276.29 L140.97,276.28 L140.28,276.26 L139.59,276.24 L138.91,276.23 L138.23,276.21 L137.54,276.19 L136.86,276.06 L136.17,275.74 L135.49,275.16 L134.80,273.30Z" fill="#000" stroke="none" stroke-width="1" filter="url(#bl)"/>
<path d="M66.50,293.00 L67.36,290.68 L68.22,289.93 L69.09,289.52 L69.95,289.34 L70.81,289.28 L71.67,289.21 L72.54,289.15 L73.40,289.09 L74.26,289.05 L75.12,289.01 L75.99,288.99 L76.85,288.98 L77.71,288.98 L78.58,288.99 L79.44,288.99 L80.30,289.00 L81.16,289.01 L82.03,289.02 L82.89,289.02 L83.75,289.03 L84.61,289.04 L85.47,289.06 L86.34,289.07 L87.20,289.08 L88.06,289.09 L88.92,289.09 L89.79,289.10 L90.65,289.11 L91.51,289.12 L92.38,289.12 L93.24,289.13 L94.10,289.13 L94.96,289.17 L95.83,289.30 L96.69,289.48 L97.55,289.69 L98.41,289.92 L99.28,290.33 L100.14,291.02 L101.00,293.10 L101.00,293.10 L100.14,295.17 L99.28,295.86 L98.41,296.27 L97.55,296.49 L96.69,296.70 L95.83,296.87 L94.96,296.99 L94.10,297.03 L93.24,297.03 L92.38,297.03 L91.51,297.03 L90.65,297.03 L89.79,297.03 L88.92,297.04 L88.06,297.04 L87.20,297.04 L86.34,297.05 L85.47,297.06 L84.61,297.06 L83.75,297.07 L82.89,297.07 L82.03,297.07 L81.16,297.08 L80.30,297.08 L79.44,297.08 L78.58,297.08 L77.71,297.08 L76.85,297.08 L75.99,297.07 L75.12,297.04 L74.26,297.00 L73.40,296.94 L72.54,296.88 L71.67,296.81 L70.81,296.75 L69.95,296.68 L69.09,296.50 L68.22,296.08 L67.36,295.33 L66.50,293.00Z" fill="#000" stroke="none" stroke-width="1" filter="url(#bl)"/>
<path d="M100.00,293.00 L100.83,290.99 L101.65,290.41 L102.47,290.15 L103.30,290.11 L104.12,290.09 L104.95,290.07 L105.78,290.04 L106.60,290.01 L107.42,289.98 L108.25,289.95 L109.08,289.92 L109.90,289.89 L110.72,289.86 L111.55,289.83 L112.38,289.81 L113.20,289.79 L114.03,289.77 L114.85,289.76 L115.67,289.75 L116.50,289.75 L117.33,289.75 L118.15,289.76 L118.97,289.77 L119.80,289.79 L120.62,289.81 L121.45,289.83 L122.28,289.86 L123.10,289.89 L123.92,289.92 L124.75,289.95 L125.58,289.98 L126.40,290.01 L127.22,290.04 L128.05,290.07 L128.88,290.09 L129.70,290.11 L130.53,290.15 L131.35,290.41 L132.18,290.99 L133.00,293.00 L133.00,293.00 L132.18,295.01 L131.35,295.59 L130.53,295.85 L129.70,295.89 L128.88,295.91 L128.05,295.93 L127.22,295.96 L126.40,295.99 L125.58,296.02 L124.75,296.05 L123.92,296.08 L123.10,296.11 L122.28,296.14 L121.45,296.17 L120.62,296.19 L119.80,296.21 L118.97,296.23 L118.15,296.24 L117.33,296.25 L116.50,296.25 L115.67,296.25 L114.85,296.24 L114.03,296.23 L113.20,296.21 L112.38,296.19 L111.55,296.17 L110.72,296.14 L109.90,296.11 L109.08,296.08 L108.25,296.05 L107.42,296.02 L106.60,295.99 L105.78,295.96 L104.95,295.93 L104.12,295.91 L103.30,295.89 L102.47,295.85 L101.65,295.59 L100.83,295.01 L100.00,293.00Z" fill="#000" stroke="none" stroke-width="1" filter="url(#bl)"/>
<path d="M131.50,293.10 L132.30,290.99 L133.10,290.33 L133.90,289.97 L134.70,289.82 L135.50,289.76 L136.30,289.69 L137.10,289.61 L137.90,289.53 L138.70,289.45 L139.50,289.37 L140.30,289.30 L141.10,289.24 L141.90,289.18 L142.70,289.15 L143.50,289.12 L144.30,289.11 L145.10,289.11 L145.90,289.11 L146.70,289.11 L147.50,289.11 L148.30,289.12 L149.10,289.13 L149.90,289.13 L150.70,289.14 L151.50,289.15 L152.30,289.15 L153.10,289.16 L153.90,289.17 L154.70,289.17 L155.50,289.17 L156.30,289.17 L157.10,289.17 L157.90,289.21 L158.70,289.31 L159.50,289.47 L160.30,289.66 L161.10,289.89 L161.90,290.31 L162.70,291.00 L163.50,293.00 L163.50,293.00 L162.70,295.01 L161.90,295.70 L161.10,296.13 L160.30,296.36 L159.50,296.55 L158.70,296.72 L157.90,296.83 L157.10,296.87 L156.30,296.87 L155.50,296.88 L154.70,296.89 L153.90,296.89 L153.10,296.90 L152.30,296.92 L151.50,296.93 L150.70,296.94 L149.90,296.95 L149.10,296.96 L148.30,296.98 L147.50,296.99 L146.70,296.99 L145.90,297.00 L145.10,297.01 L144.30,297.01 L143.50,297.00 L142.70,296.98 L141.90,296.95 L141.10,296.90 L140.30,296.84 L139.50,296.78 L138.70,296.71 L137.90,296.63 L137.10,296.55 L136.30,296.48 L135.50,296.42 L134.70,296.36 L133.90,296.22 L133.10,295.86 L132.30,295.20 L131.50,293.10Z" fill="#000" stroke="none" stroke-width="1" filter="url(#bl)"/>
<path d="M162.00,293.10 L162.84,291.17 L163.67,290.63 L164.50,290.44 L165.34,290.43 L166.18,290.41 L167.01,290.40 L167.84,290.38 L168.68,290.36 L169.52,290.34 L170.35,290.33 L171.19,290.31 L172.02,290.29 L172.85,290.27 L173.69,290.25 L174.53,290.24 L175.36,290.22 L176.19,290.21 L177.03,290.21 L177.87,290.20 L178.70,290.20 L179.53,290.20 L180.37,290.20 L181.21,290.21 L182.04,290.21 L182.88,290.22 L183.71,290.23 L184.55,290.24 L185.38,290.25 L186.22,290.26 L187.05,290.28 L187.88,290.29 L188.72,290.30 L189.56,290.31 L190.39,290.32 L191.22,290.33 L192.06,290.34 L192.90,290.35 L193.73,290.57 L194.56,291.13 L195.40,293.10 L195.40,293.10 L194.56,295.07 L193.73,295.63 L192.90,295.85 L192.06,295.86 L191.22,295.87 L190.39,295.88 L189.56,295.89 L188.72,295.90 L187.88,295.91 L187.05,295.93 L186.22,295.94 L185.38,295.95 L184.55,295.96 L183.71,295.97 L182.88,295.98 L182.04,295.99 L181.21,295.99 L180.37,296.00 L179.53,296.00 L178.70,296.00 L177.87,296.00 L177.03,295.99 L176.19,295.99 L175.36,295.98 L174.53,295.96 L173.69,295.95 L172.85,295.93 L172.02,295.91 L171.19,295.89 L170.35,295.88 L169.52,295.86 L168.68,295.84 L167.84,295.82 L167.01,295.80 L166.18,295.79 L165.34,295.77 L164.50,295.76 L163.67,295.57 L162.84,295.03 L162.00,293.10Z" fill="#000" stroke="none" stroke-width="1" filter="url(#bl)"/>
<path d="M388.50,247.40 L388.94,245.69 L389.38,245.06 L389.83,244.63 L390.27,244.31 L390.71,244.08 L391.15,243.91 L391.60,243.80 L392.04,243.75 L392.48,243.73 L392.93,243.71 L393.37,243.70 L393.81,243.70 L394.25,243.71 L394.69,243.73 L395.14,243.78 L395.58,243.83 L396.02,243.90 L396.46,243.98 L396.91,244.06 L397.35,244.15 L397.79,244.24 L398.24,244.32 L398.68,244.40 L399.12,244.47 L399.56,244.52 L400.00,244.57 L400.45,244.59 L400.89,244.60 L401.33,244.61 L401.77,244.63 L402.22,244.67 L402.66,244.72 L403.10,244.79 L403.55,244.85 L403.99,244.92 L404.43,245.04 L404.87,245.25 L405.31,245.56 L405.76,246.04 L406.20,247.40 L406.20,247.40 L405.76,248.76 L405.31,249.24 L404.87,249.55 L404.43,249.76 L403.99,249.88 L403.55,249.95 L403.10,250.01 L402.66,250.08 L402.22,250.13 L401.77,250.17 L401.33,250.19 L400.89,250.20 L400.45,250.21 L400.00,250.23 L399.56,250.28 L399.12,250.33 L398.68,250.40 L398.24,250.48 L397.79,250.56 L397.35,250.65 L396.91,250.74 L396.46,250.82 L396.02,250.90 L395.58,250.97 L395.14,251.02 L394.69,251.07 L394.25,251.09 L393.81,251.10 L393.37,251.10 L392.93,251.09 L392.48,251.07 L392.04,251.05 L391.60,251.00 L391.15,250.89 L390.71,250.72 L390.27,250.49 L389.83,250.17 L389.38,249.74 L388.94,249.11 L388.50,247.40Z" fill="#000" stroke="none" stroke-width="1" filter="url(#bl)"/>
<path d="M396.0,237.4 L397.2,237.2 L400.3,242.4 L398.6,242.8 Z" fill="#000" stroke="none" stroke-width="1" filter="url(#bl)"/>
<ellipse cx="402.9" cy="240" rx="1.0" ry="1.3" fill="#000" filter="url(#bl)"/>
<line x1="402.6" y1="237.6" x2="402.9" y2="239.5" stroke="#555" stroke-width="0.7" />
<path d="M410.60,246.40 L411.02,245.18 L411.44,244.78 L411.85,244.57 L412.27,244.48 L412.69,244.48 L413.11,244.51 L413.52,244.55 L413.94,244.59 L414.36,244.63 L414.78,244.67 L415.19,244.71 L415.61,244.75 L416.03,244.78 L416.44,244.81 L416.86,244.83 L417.28,244.84 L417.70,244.85 L418.12,244.86 L418.53,244.84 L418.95,244.80 L419.37,244.74 L419.79,244.66 L420.20,244.56 L420.62,244.45 L421.04,244.34 L421.46,244.22 L421.87,244.12 L422.29,244.02 L422.71,243.94 L423.12,243.87 L423.54,243.84 L423.96,243.82 L424.38,243.83 L424.80,243.84 L425.21,243.88 L425.63,244.00 L426.05,244.20 L426.47,244.51 L426.88,244.98 L427.30,246.30 L427.30,246.30 L426.88,247.63 L426.47,248.10 L426.05,248.41 L425.63,248.62 L425.21,248.74 L424.80,248.79 L424.38,248.81 L423.96,248.82 L423.54,248.81 L423.12,248.78 L422.71,248.72 L422.29,248.64 L421.87,248.55 L421.46,248.45 L421.04,248.34 L420.62,248.23 L420.20,248.13 L419.79,248.03 L419.37,247.96 L418.95,247.90 L418.53,247.87 L418.12,247.86 L417.70,247.86 L417.28,247.88 L416.86,247.90 L416.44,247.92 L416.03,247.96 L415.61,248.00 L415.19,248.04 L414.78,248.08 L414.36,248.13 L413.94,248.17 L413.52,248.22 L413.11,248.26 L412.69,248.30 L412.27,248.30 L411.85,248.22 L411.44,248.01 L411.02,247.62 L410.60,246.40Z" fill="#000" stroke="none" stroke-width="1" filter="url(#bl)"/>
<path d="M430.50,246.80 L430.90,245.71 L431.30,245.37 L431.70,245.20 L432.10,245.15 L432.50,245.17 L432.90,245.20 L433.30,245.23 L433.70,245.27 L434.10,245.30 L434.50,245.33 L434.90,245.37 L435.30,245.40 L435.70,245.43 L436.10,245.45 L436.50,245.47 L436.90,245.49 L437.30,245.50 L437.70,245.50 L438.10,245.49 L438.50,245.47 L438.90,245.43 L439.30,245.39 L439.70,245.33 L440.10,245.27 L440.50,245.20 L440.90,245.13 L441.30,245.07 L441.70,245.01 L442.10,244.97 L442.50,244.93 L442.90,244.91 L443.30,244.90 L443.70,244.90 L444.10,244.91 L444.50,244.93 L444.90,244.96 L445.30,245.07 L445.70,245.29 L446.10,245.67 L446.50,246.80 L446.50,246.80 L446.10,247.93 L445.70,248.31 L445.30,248.53 L444.90,248.64 L444.50,248.67 L444.10,248.69 L443.70,248.70 L443.30,248.70 L442.90,248.69 L442.50,248.67 L442.10,248.63 L441.70,248.59 L441.30,248.53 L440.90,248.47 L440.50,248.40 L440.10,248.33 L439.70,248.27 L439.30,248.21 L438.90,248.17 L438.50,248.13 L438.10,248.11 L437.70,248.10 L437.30,248.10 L436.90,248.11 L436.50,248.13 L436.10,248.15 L435.70,248.17 L435.30,248.20 L434.90,248.23 L434.50,248.27 L434.10,248.30 L433.70,248.33 L433.30,248.37 L432.90,248.40 L432.50,248.43 L432.10,248.45 L431.70,248.40 L431.30,248.23 L430.90,247.89 L430.50,246.80Z" fill="#000" stroke="none" stroke-width="1" filter="url(#bl)"/>
<path d="M451.50,246.90 L451.91,245.45 L452.32,244.93 L452.74,244.60 L453.15,244.39 L453.56,244.26 L453.98,244.20 L454.39,244.20 L454.80,244.22 L455.21,244.23 L455.62,244.25 L456.04,244.27 L456.45,244.28 L456.86,244.30 L457.27,244.31 L457.69,244.32 L458.10,244.32 L458.51,244.32 L458.93,244.32 L459.34,244.31 L459.75,244.30 L460.16,244.29 L460.57,244.27 L460.99,244.26 L461.40,244.25 L461.81,244.24 L462.23,244.23 L462.64,244.22 L463.05,244.21 L463.46,244.21 L463.88,244.20 L464.29,244.19 L464.70,244.19 L465.11,244.18 L465.52,244.17 L465.94,244.16 L466.35,244.22 L466.76,244.36 L467.18,244.61 L467.59,245.03 L468.00,246.30 L468.00,246.30 L467.59,247.60 L467.18,248.05 L466.76,248.33 L466.35,248.50 L465.94,248.59 L465.52,248.61 L465.11,248.63 L464.70,248.65 L464.29,248.68 L463.88,248.70 L463.46,248.72 L463.05,248.75 L462.64,248.77 L462.23,248.79 L461.81,248.81 L461.40,248.83 L460.99,248.85 L460.57,248.87 L460.16,248.88 L459.75,248.90 L459.34,248.92 L458.93,248.94 L458.51,248.97 L458.10,249.00 L457.69,249.03 L457.27,249.07 L456.86,249.11 L456.45,249.16 L456.04,249.20 L455.62,249.25 L455.21,249.30 L454.80,249.34 L454.39,249.39 L453.98,249.42 L453.56,249.39 L453.15,249.29 L452.74,249.11 L452.32,248.81 L451.91,248.32 L451.50,246.90Z" fill="#000" stroke="none" stroke-width="1" filter="url(#bl)"/>
<path d="M385.00,277.30 L385.46,275.50 L385.93,274.84 L386.39,274.38 L386.86,274.05 L387.32,273.80 L387.79,273.62 L388.25,273.50 L388.72,273.45 L389.19,273.43 L389.65,273.41 L390.12,273.40 L390.58,273.40 L391.05,273.40 L391.51,273.40 L391.98,273.40 L392.44,273.40 L392.91,273.40 L393.37,273.40 L393.84,273.40 L394.30,273.40 L394.76,273.40 L395.23,273.40 L395.69,273.40 L396.16,273.40 L396.62,273.40 L397.09,273.40 L397.56,273.40 L398.02,273.40 L398.49,273.40 L398.95,273.40 L399.42,273.40 L399.88,273.40 L400.35,273.43 L400.81,273.54 L401.28,273.74 L401.74,274.02 L402.21,274.38 L402.67,274.86 L403.14,275.52 L403.60,277.30 L403.60,277.30 L403.14,279.08 L402.67,279.74 L402.21,280.22 L401.74,280.58 L401.28,280.86 L400.81,281.06 L400.35,281.17 L399.88,281.20 L399.42,281.20 L398.95,281.20 L398.49,281.20 L398.02,281.20 L397.56,281.20 L397.09,281.20 L396.62,281.20 L396.16,281.20 L395.69,281.20 L395.23,281.20 L394.76,281.20 L394.30,281.20 L393.84,281.20 L393.37,281.20 L392.91,281.20 L392.44,281.20 L391.98,281.20 L391.51,281.20 L391.05,281.20 L390.58,281.20 L390.12,281.20 L389.65,281.19 L389.19,281.17 L388.72,281.15 L388.25,281.10 L387.79,280.98 L387.32,280.80 L386.86,280.55 L386.39,280.22 L385.93,279.76 L385.46,279.10 L385.00,277.30Z" fill="#000" stroke="none" stroke-width="1" filter="url(#bl)"/>
<path d="M407.70,276.80 L408.16,275.22 L408.62,274.67 L409.09,274.34 L409.55,274.14 L410.01,274.05 L410.47,274.04 L410.94,274.09 L411.40,274.15 L411.86,274.21 L412.32,274.26 L412.79,274.31 L413.25,274.35 L413.71,274.38 L414.18,274.40 L414.64,274.41 L415.10,274.40 L415.56,274.37 L416.02,274.31 L416.49,274.23 L416.95,274.12 L417.41,273.98 L417.88,273.83 L418.34,273.67 L418.80,273.50 L419.26,273.33 L419.72,273.17 L420.19,273.02 L420.65,272.88 L421.11,272.77 L421.57,272.69 L422.04,272.63 L422.50,272.60 L422.96,272.61 L423.43,272.70 L423.89,272.88 L424.35,273.13 L424.81,273.47 L425.27,273.92 L425.74,274.57 L426.20,276.30 L426.20,276.30 L425.74,278.06 L425.27,278.73 L424.81,279.20 L424.35,279.57 L423.89,279.85 L423.43,280.05 L422.96,280.17 L422.50,280.20 L422.04,280.20 L421.57,280.16 L421.11,280.10 L420.65,280.02 L420.19,279.91 L419.72,279.78 L419.26,279.64 L418.80,279.50 L418.34,279.36 L417.88,279.22 L417.41,279.09 L416.95,278.98 L416.49,278.90 L416.02,278.84 L415.56,278.80 L415.10,278.80 L414.64,278.82 L414.18,278.85 L413.71,278.90 L413.25,278.95 L412.79,279.02 L412.32,279.09 L411.86,279.17 L411.40,279.25 L410.94,279.33 L410.47,279.41 L410.01,279.43 L409.55,279.36 L409.09,279.19 L408.62,278.88 L408.16,278.36 L407.70,276.80Z" fill="#000" stroke="none" stroke-width="1" filter="url(#bl)"/>
<path d="M429.00,275.60 L429.49,273.59 L429.98,272.82 L430.46,272.28 L430.95,271.86 L431.44,271.53 L431.93,271.28 L432.41,271.10 L432.90,270.98 L433.39,270.92 L433.88,270.90 L434.36,270.90 L434.85,270.92 L435.34,270.97 L435.82,271.05 L436.31,271.13 L436.80,271.23 L437.29,271.33 L437.77,271.42 L438.26,271.49 L438.75,271.54 L439.24,271.56 L439.73,271.56 L440.21,271.53 L440.70,271.49 L441.19,271.44 L441.68,271.38 L442.16,271.31 L442.65,271.24 L443.14,271.18 L443.62,271.13 L444.11,271.09 L444.60,271.06 L445.09,271.06 L445.57,271.13 L446.06,271.29 L446.55,271.54 L447.04,271.88 L447.52,272.33 L448.01,272.99 L448.50,274.80 L448.50,274.80 L448.01,276.65 L447.52,277.35 L447.04,277.84 L446.55,278.22 L446.06,278.51 L445.57,278.71 L445.09,278.82 L444.60,278.86 L444.11,278.87 L443.62,278.87 L443.14,278.86 L442.65,278.84 L442.16,278.81 L441.68,278.78 L441.19,278.76 L440.70,278.75 L440.21,278.75 L439.73,278.76 L439.24,278.80 L438.75,278.86 L438.26,278.95 L437.77,279.06 L437.29,279.19 L436.80,279.33 L436.31,279.47 L435.82,279.59 L435.34,279.71 L434.85,279.80 L434.36,279.86 L433.88,279.90 L433.39,279.92 L432.90,279.90 L432.41,279.82 L431.93,279.68 L431.44,279.47 L430.95,279.18 L430.46,278.80 L429.98,278.30 L429.49,277.57 L429.00,275.60Z" fill="#000" stroke="none" stroke-width="1" filter="url(#bl)"/>
<path d="M451.20,274.30 L451.66,272.61 L452.13,271.99 L452.59,271.58 L453.06,271.30 L453.52,271.12 L453.99,271.01 L454.45,270.98 L454.92,270.98 L455.38,270.98 L455.85,270.98 L456.31,270.97 L456.78,270.97 L457.25,270.97 L457.71,270.96 L458.18,270.95 L458.64,270.94 L459.11,270.93 L459.57,270.91 L460.04,270.88 L460.50,270.85 L460.96,270.81 L461.43,270.77 L461.89,270.71 L462.36,270.65 L462.82,270.58 L463.29,270.51 L463.75,270.43 L464.22,270.35 L464.69,270.26 L465.15,270.18 L465.62,270.09 L466.08,270.00 L466.55,269.93 L467.01,269.91 L467.48,269.96 L467.94,270.10 L468.41,270.33 L468.87,270.70 L469.34,271.29 L469.80,273.00 L469.80,273.00 L469.34,274.77 L468.87,275.43 L468.41,275.86 L467.94,276.16 L467.48,276.36 L467.01,276.48 L466.55,276.53 L466.08,276.52 L465.62,276.50 L465.15,276.47 L464.69,276.45 L464.22,276.43 L463.75,276.41 L463.29,276.40 L462.82,276.39 L462.36,276.39 L461.89,276.39 L461.43,276.40 L460.96,276.42 L460.50,276.45 L460.04,276.48 L459.57,276.52 L459.11,276.57 L458.64,276.62 L458.18,276.67 L457.71,276.73 L457.25,276.79 L456.78,276.85 L456.31,276.91 L455.85,276.98 L455.38,277.04 L454.92,277.10 L454.45,277.16 L453.99,277.20 L453.52,277.16 L453.06,277.04 L452.59,276.83 L452.13,276.48 L451.66,275.93 L451.20,274.30Z" fill="#000" stroke="none" stroke-width="1" filter="url(#bl)"/>
<text transform="matrix(0.9712 0 0 1 352.80 252.30)" font-family="Liberation Serif" font-weight="normal" font-size="15.88" fill="#000"  stroke="#000" stroke-width="0.25" stroke-linejoin="round">α/β</text>
<path d="M79.4,510.5 L128.3,506.3 L177.5,506.9 L226.5,503.1" fill="none" stroke="#707070" stroke-width="1.0" />
<path d="M79.4,499.6 L128.3,485.3 L177.5,490.3 L226.5,488.2" fill="none" stroke="#5a5a5a" stroke-width="1.0" />
<path d="M79.4,504.6 L128.3,465.0 L177.5,458.2 L226.5,452.3" fill="none" stroke="#333" stroke-width="1.0" />
<path d="M79.4,509.2 L128.3,478.1 L177.5,474.2 L226.5,463.5" fill="none" stroke="#8a8a8a" stroke-width="1.0" />
<path d="M79.4,507.0 L128.3,475.3 L177.5,465.1 L226.5,461.8" fill="none" stroke="#a0a0a0" stroke-width="1.0" stroke-dasharray="4,2.8"/>
<path d="M79.4,492.3 L128.3,458.7 L177.5,439.6 L226.5,419.6" fill="none" stroke="#111" stroke-width="1.1" stroke-dasharray="4.5,2.8"/>
<circle cx="79.4" cy="510.5" r="1.5" fill="#fff" stroke="#555" stroke-width="0.9"/>
<line x1="128.3" y1="504.5" x2="128.3" y2="510.6" stroke="#707070" stroke-width="0.8" />
<line x1="126.80000000000001" y1="504.5" x2="129.8" y2="504.5" stroke="#707070" stroke-width="0.8" />
<line x1="126.80000000000001" y1="510.6" x2="129.8" y2="510.6" stroke="#707070" stroke-width="0.8" />
<circle cx="128.3" cy="506.3" r="1.5" fill="#fff" stroke="#555" stroke-width="0.9"/>
<line x1="177.5" y1="504.6" x2="177.5" y2="509.2" stroke="#707070" stroke-width="0.8" />
<line x1="176.0" y1="504.6" x2="179.0" y2="504.6" stroke="#707070" stroke-width="0.8" />
<line x1="176.0" y1="509.2" x2="179.0" y2="509.2" stroke="#707070" stroke-width="0.8" />
<circle cx="177.5" cy="506.9" r="1.5" fill="#fff" stroke="#555" stroke-width="0.9"/>
<line x1="226.5" y1="498.5" x2="226.5" y2="503.1" stroke="#707070" stroke-width="0.8" />
<line x1="225.0" y1="498.5" x2="228.0" y2="498.5" stroke="#707070" stroke-width="0.8" />
<line x1="225.0" y1="503.1" x2="228.0" y2="503.1" stroke="#707070" stroke-width="0.8" />
<circle cx="226.5" cy="503.1" r="1.5" fill="#fff" stroke="#555" stroke-width="0.9"/>
<line x1="79.4" y1="498" x2="79.4" y2="501.5" stroke="#5a5a5a" stroke-width="0.8" />
<line x1="77.9" y1="498" x2="80.9" y2="498" stroke="#5a5a5a" stroke-width="0.8" />
<line x1="77.9" y1="501.5" x2="80.9" y2="501.5" stroke="#5a5a5a" stroke-width="0.8" />
<rect x="77.7" y="497.90000000000003" width="3.4" height="3.4" fill="#9a9a9a" stroke="#444" stroke-width="0.9" />
<rect x="126.60000000000001" y="483.6" width="3.4" height="3.4" fill="#9a9a9a" stroke="#444" stroke-width="0.9" />
<line x1="177.5" y1="485.7" x2="177.5" y2="494.6" stroke="#5a5a5a" stroke-width="0.8" />
<line x1="176.0" y1="485.7" x2="179.0" y2="485.7" stroke="#5a5a5a" stroke-width="0.8" />
<line x1="176.0" y1="494.6" x2="179.0" y2="494.6" stroke="#5a5a5a" stroke-width="0.8" />
<rect x="175.9" y="488.7" width="3.2" height="3.2" fill="#fff" stroke="#444" stroke-width="0.9" rx="1.2"/>
<line x1="226.5" y1="483" x2="226.5" y2="493" stroke="#5a5a5a" stroke-width="0.8" />
<line x1="225.0" y1="483" x2="228.0" y2="483" stroke="#5a5a5a" stroke-width="0.8" />
<line x1="225.0" y1="493" x2="228.0" y2="493" stroke="#5a5a5a" stroke-width="0.8" />
<rect x="224.9" y="486.59999999999997" width="3.2" height="3.2" fill="#fff" stroke="#444" stroke-width="0.9" rx="1.2"/>
<path d="M79.4,502.6 L81.2,505.90000000000003 L77.60000000000001,505.90000000000003 Z" fill="#000" stroke="none" stroke-width="1" />
<path d="M128.3,463.0 L130.10000000000002,466.3 L126.50000000000001,466.3 Z" fill="#000" stroke="none" stroke-width="1" />
<line x1="177.5" y1="453" x2="177.5" y2="462.5" stroke="#333" stroke-width="0.8" />
<line x1="176.0" y1="453" x2="179.0" y2="453" stroke="#333" stroke-width="0.8" />
<line x1="176.0" y1="462.5" x2="179.0" y2="462.5" stroke="#333" stroke-width="0.8" />
<path d="M177.5,456.2 L179.3,459.5 L175.7,459.5 Z" fill="#000" stroke="none" stroke-width="1" />
<line x1="226.5" y1="445" x2="226.5" y2="458.8" stroke="#333" stroke-width="0.8" />
<line x1="225.0" y1="445" x2="228.0" y2="445" stroke="#333" stroke-width="0.8" />
<line x1="225.0" y1="458.8" x2="228.0" y2="458.8" stroke="#333" stroke-width="0.8" />
<path d="M226.5,450.3 L228.3,453.6 L224.7,453.6 Z" fill="#000" stroke="none" stroke-width="1" />
<rect x="77.60000000000001" y="507.4" width="3.6" height="3.6" fill="#6a6a6a" stroke="#555" stroke-width="0.6" />
<line x1="128.3" y1="472" x2="128.3" y2="481" stroke="#8a8a8a" stroke-width="0.8" />
<line x1="126.80000000000001" y1="472" x2="129.8" y2="472" stroke="#8a8a8a" stroke-width="0.8" />
<line x1="126.80000000000001" y1="481" x2="129.8" y2="481" stroke="#8a8a8a" stroke-width="0.8" />
<rect x="126.50000000000001" y="476.3" width="3.6" height="3.6" fill="#6a6a6a" stroke="#555" stroke-width="0.6" />
<line x1="177.5" y1="470" x2="177.5" y2="478.5" stroke="#8a8a8a" stroke-width="0.8" />
<line x1="176.0" y1="470" x2="179.0" y2="470" stroke="#8a8a8a" stroke-width="0.8" />
<line x1="176.0" y1="478.5" x2="179.0" y2="478.5" stroke="#8a8a8a" stroke-width="0.8" />
<rect x="175.7" y="472.4" width="3.6" height="3.6" fill="#6a6a6a" stroke="#555" stroke-width="0.6" />
<line x1="226.5" y1="455" x2="226.5" y2="468" stroke="#8a8a8a" stroke-width="0.8" />
<line x1="225.0" y1="455" x2="228.0" y2="455" stroke="#8a8a8a" stroke-width="0.8" />
<line x1="225.0" y1="468" x2="228.0" y2="468" stroke="#8a8a8a" stroke-width="0.8" />
<rect x="224.7" y="461.7" width="3.6" height="3.6" fill="#6a6a6a" stroke="#555" stroke-width="0.6" />
<rect x="77.60000000000001" y="505.2" width="3.6" height="3.6" fill="#6a6a6a" stroke="#555" stroke-width="0.6" />
<line x1="128.3" y1="470" x2="128.3" y2="478" stroke="#a0a0a0" stroke-width="0.8" />
<line x1="126.80000000000001" y1="470" x2="129.8" y2="470" stroke="#a0a0a0" stroke-width="0.8" />
<line x1="126.80000000000001" y1="478" x2="129.8" y2="478" stroke="#a0a0a0" stroke-width="0.8" />
<rect x="126.50000000000001" y="473.5" width="3.6" height="3.6" fill="#6a6a6a" stroke="#555" stroke-width="0.6" />
<line x1="177.5" y1="461" x2="177.5" y2="469" stroke="#a0a0a0" stroke-width="0.8" />
<line x1="176.0" y1="461" x2="179.0" y2="461" stroke="#a0a0a0" stroke-width="0.8" />
<line x1="176.0" y1="469" x2="179.0" y2="469" stroke="#a0a0a0" stroke-width="0.8" />
<rect x="175.7" y="463.3" width="3.6" height="3.6" fill="#6a6a6a" stroke="#555" stroke-width="0.6" />
<line x1="226.5" y1="456" x2="226.5" y2="467.7" stroke="#a0a0a0" stroke-width="0.8" />
<line x1="225.0" y1="456" x2="228.0" y2="456" stroke="#a0a0a0" stroke-width="0.8" />
<line x1="225.0" y1="467.7" x2="228.0" y2="467.7" stroke="#a0a0a0" stroke-width="0.8" />
<rect x="224.7" y="460.0" width="3.6" height="3.6" fill="#6a6a6a" stroke="#555" stroke-width="0.6" />
<rect x="77.7" y="490.6" width="3.4" height="3.4" fill="#000" stroke="none" stroke-width="1" rx="0.7"/>
<line x1="128.3" y1="456.5" x2="128.3" y2="461" stroke="#111" stroke-width="0.8" />
<line x1="126.80000000000001" y1="456.5" x2="129.8" y2="456.5" stroke="#111" stroke-width="0.8" />
<line x1="126.80000000000001" y1="461" x2="129.8" y2="461" stroke="#111" stroke-width="0.8" />
<rect x="126.60000000000001" y="457.0" width="3.4" height="3.4" fill="#000" stroke="none" stroke-width="1" rx="0.7"/>
<line x1="177.5" y1="437.5" x2="177.5" y2="441.5" stroke="#111" stroke-width="0.8" />
<line x1="176.0" y1="437.5" x2="179.0" y2="437.5" stroke="#111" stroke-width="0.8" />
<line x1="176.0" y1="441.5" x2="179.0" y2="441.5" stroke="#111" stroke-width="0.8" />
<rect x="175.8" y="437.90000000000003" width="3.4" height="3.4" fill="#000" stroke="none" stroke-width="1" rx="0.7"/>
<line x1="226.5" y1="414.3" x2="226.5" y2="424.2" stroke="#111" stroke-width="0.8" />
<line x1="225.0" y1="414.3" x2="228.0" y2="414.3" stroke="#111" stroke-width="0.8" />
<line x1="225.0" y1="424.2" x2="228.0" y2="424.2" stroke="#111" stroke-width="0.8" />
<rect x="224.8" y="417.90000000000003" width="3.4" height="3.4" fill="#000" stroke="none" stroke-width="1" rx="0.7"/>
<line x1="237.3" y1="363.8" x2="257.4" y2="363.8" stroke="#707070" stroke-width="1.0" />
<path d="M247.3,362.6 L248.5,363.8 L247.3,365.0 L246.10000000000002,363.8 Z" fill="#fff" stroke="#777" stroke-width="0.7" />
<line x1="237.3" y1="379.1" x2="257.4" y2="379.1" stroke="#5a5a5a" stroke-width="1.0" />
<rect x="246.0" y="378.0" width="2.6" height="2.2" fill="#ccc" stroke="#444" stroke-width="0.7" />
<line x1="237.3" y1="394.3" x2="257.4" y2="394.3" stroke="#333" stroke-width="1.0" />
<path d="M247.3,392.8 L248.60000000000002,395.3 L246.0,395.3 Z" fill="#000" stroke="none" stroke-width="1" />
<line x1="237.3" y1="409.6" x2="257.4" y2="409.6" stroke="#8a8a8a" stroke-width="1.0" />
<rect x="245.8" y="408.1" width="3" height="3" fill="#606060" stroke="none" stroke-width="1" />
<line x1="237.3" y1="424.9" x2="257.4" y2="424.9" stroke="#a0a0a0" stroke-width="1.0" stroke-dasharray="4,2.8"/>
<rect x="245.8" y="423.4" width="3" height="3" fill="#606060" stroke="none" stroke-width="1" />
<line x1="237.3" y1="440.3" x2="257.4" y2="440.3" stroke="#111" stroke-width="1.0" stroke-dasharray="4.5,2.8"/>
<circle cx="247.3" cy="440.3" r="1.3" fill="#000"/>
<text transform="matrix(1.1186 0 0 1 261.00 367.50)" font-family="Liberation Sans" font-weight="bold" font-size="11.01" fill="#000"  stroke="#000" stroke-width="0.32" stroke-linejoin="round">Control</text>
<text transform="matrix(1.0757 0 0 1 261.00 382.80)" font-family="Liberation Sans" font-weight="bold" font-size="11.01" fill="#000"  stroke="#000" stroke-width="0.32" stroke-linejoin="round">B+P</text>
<text transform="matrix(0.9836 0 0 1 261.00 398.00)" font-family="Liberation Sans" font-weight="bold" font-size="11.01" fill="#000"  stroke="#000" stroke-width="0.32" stroke-linejoin="round">R</text>
<text transform="matrix(1.1181 0 0 1 261.00 413.30)" font-family="Liberation Sans" font-weight="bold" font-size="11.01" fill="#000"  stroke="#000" stroke-width="0.32" stroke-linejoin="round">B+R</text>
<text transform="matrix(1.1217 0 0 1 261.00 428.60)" font-family="Liberation Sans" font-weight="bold" font-size="11.01" fill="#000"  stroke="#000" stroke-width="0.32" stroke-linejoin="round">P+R</text>
<text transform="matrix(1.1210 0 0 1 261.00 444.00)" font-family="Liberation Sans" font-weight="bold" font-size="11.01" fill="#000"  stroke="#000" stroke-width="0.32" stroke-linejoin="round">B+P+R</text>
</svg>
</body></html>
